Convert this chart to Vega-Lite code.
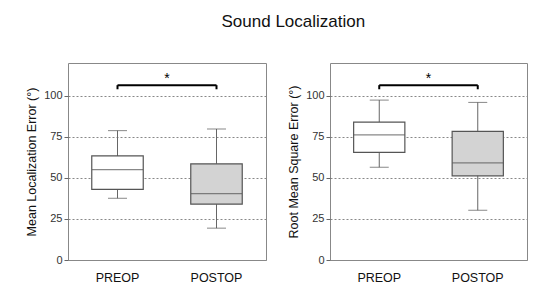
{
  "$schema": "https://vega.github.io/schema/vega-lite/v6.json",
  "padding": {"left": 25, "top": 12, "right": 6, "bottom": 5},
  "background": "white",
  "title": {"text": "Sound Localization", "fontSize": 17, "font": "Liberation Sans", "fontWeight": "normal", "anchor": "middle", "offset": 32, "dx": 17, "color": "#111"},
  "config": {
    "view": {"stroke": "#888888", "strokeWidth": 1},
    "font": "Liberation Sans",
    "axis": {"labelFont": "Liberation Sans", "titleFont": "Liberation Sans"}
  },
  "datasets": {
    "boxes": [
      {"panel": "Mean", "group": "PREOP", "min": 37.6, "q1": 43, "median": 55, "q3": 63.4, "max": 78.8},
      {"panel": "Mean", "group": "POSTOP", "min": 19.4, "q1": 34, "median": 40.4, "q3": 58.6, "max": 79.8},
      {"panel": "RMS", "group": "PREOP", "min": 56.5, "q1": 65.6, "median": 76.2, "q3": 84, "max": 97.4},
      {"panel": "RMS", "group": "POSTOP", "min": 30.3, "q1": 51.3, "median": 59.2, "q3": 78.4, "max": 96}
    ],
    "sig": [
      {"panel": "Mean", "from": "PREOP", "to": "POSTOP", "y": 106.5, "yend": 104, "ystar": 110.5, "label": "*"},
      {"panel": "RMS", "from": "PREOP", "to": "POSTOP", "y": 106.5, "yend": 104, "ystar": 110.5, "label": "*"}
    ]
  },
  "spacing": 20,
  "hconcat": [
    {
      "width": 198,
      "height": 197,
      "layer": [
        {
          "data": {"name": "boxes"},
          "transform": [{"filter": "datum.panel === 'Mean'"}],
          "encoding": {
            "x": {"field": "group", "type": "nominal", "scale": {"domain": ["PREOP", "POSTOP"], "paddingInner": 0, "paddingOuter": 0},
                  "axis": {"title": null, "labelAngle": 0, "ticks": false, "domain": false, "labelFontSize": 12.5, "labelColor": "#111", "labelPadding": 11}}
          },
          "layer": [
            {"mark": {"type": "rule", "color": "#666", "strokeWidth": 1},
             "encoding": {
               "y": {"field": "min", "type": "quantitative", "scale": {"domain": [0, 120], "nice": false},
                     "axis": {"title": "Mean Localization Error  (°)", "titleFontSize": 12.5, "titleFontWeight": "normal", "titleColor": "#111", "titlePadding": 5,
                              "values": [0, 25, 50, 75, 100], "labelFontSize": 11, "labelColor": "#333", "tickColor": "#666", "tickSize": 4, "domain": false,
                              "grid": true, "gridDash": [2, 2], "gridColor": "#888", "gridWidth": 1}},
               "y2": {"field": "max"}
             }},
            {"mark": {"type": "bar", "stroke": "#555", "strokeWidth": 1.2, "width": {"band": 0.52}},
             "encoding": {
               "y": {"field": "q1", "type": "quantitative"},
               "y2": {"field": "q3"},
               "fill": {"field": "group", "type": "nominal", "scale": {"domain": ["PREOP", "POSTOP"], "range": ["#ffffff", "#d3d3d3"]}, "legend": null}
             }},
            {"mark": {"type": "tick", "size": 51, "thickness": 1.3, "color": "#555"},
             "encoding": {"y": {"field": "median", "type": "quantitative"}}},
            {"mark": {"type": "tick", "size": 19, "thickness": 1, "color": "#555"},
             "encoding": {"y": {"field": "min", "type": "quantitative"}}},
            {"mark": {"type": "tick", "size": 19, "thickness": 1, "color": "#555"},
             "encoding": {"y": {"field": "max", "type": "quantitative"}}}
          ]
        },
        {
          "data": {"name": "sig"},
          "transform": [{"filter": "datum.panel === 'Mean'"}],
          "layer": [
            {"mark": {"type": "rule", "color": "#000", "strokeWidth": 2},
             "encoding": {
               "x": {"field": "from", "type": "nominal"},
               "x2": {"field": "to"},
               "y": {"field": "y", "type": "quantitative"}
             }},
            {"mark": {"type": "rule", "color": "#000", "strokeWidth": 2},
             "encoding": {
               "x": {"field": "from", "type": "nominal"},
               "y": {"field": "yend", "type": "quantitative"},
               "y2": {"field": "y"}
             }},
            {"mark": {"type": "rule", "color": "#000", "strokeWidth": 2},
             "encoding": {
               "x": {"field": "to", "type": "nominal"},
               "y": {"field": "yend", "type": "quantitative"},
               "y2": {"field": "y"}
             }},
            {"mark": {"type": "text", "fontSize": 14, "color": "#000", "baseline": "middle", "align": "center"},
             "encoding": {
               "x": {"field": "from", "type": "nominal", "bandPosition": 1},
               "y": {"field": "ystar", "type": "quantitative"},
               "text": {"field": "label"}
             }}
          ]
        }
      ]
    },
    {
      "width": 197,
      "height": 197,
      "layer": [
        {
          "data": {"name": "boxes"},
          "transform": [{"filter": "datum.panel === 'RMS'"}],
          "encoding": {
            "x": {"field": "group", "type": "nominal", "scale": {"domain": ["PREOP", "POSTOP"], "paddingInner": 0, "paddingOuter": 0},
                  "axis": {"title": null, "labelAngle": 0, "ticks": false, "domain": false, "labelFontSize": 12.5, "labelColor": "#111", "labelPadding": 11}}
          },
          "layer": [
            {"mark": {"type": "rule", "color": "#666", "strokeWidth": 1},
             "encoding": {
               "y": {"field": "min", "type": "quantitative", "scale": {"domain": [0, 120], "nice": false},
                     "axis": {"title": "Root Mean Square Error  (°)", "titleFontSize": 12.5, "titleFontWeight": "normal", "titleColor": "#111", "titlePadding": 5,
                              "values": [0, 25, 50, 75, 100], "labelFontSize": 11, "labelColor": "#333", "tickColor": "#666", "tickSize": 4, "domain": false,
                              "grid": true, "gridDash": [2, 2], "gridColor": "#888", "gridWidth": 1}},
               "y2": {"field": "max"}
             }},
            {"mark": {"type": "bar", "stroke": "#555", "strokeWidth": 1.2, "width": {"band": 0.52}},
             "encoding": {
               "y": {"field": "q1", "type": "quantitative"},
               "y2": {"field": "q3"},
               "fill": {"field": "group", "type": "nominal", "scale": {"domain": ["PREOP", "POSTOP"], "range": ["#ffffff", "#d3d3d3"]}, "legend": null}
             }},
            {"mark": {"type": "tick", "size": 51, "thickness": 1.3, "color": "#555"},
             "encoding": {"y": {"field": "median", "type": "quantitative"}}},
            {"mark": {"type": "tick", "size": 19, "thickness": 1, "color": "#555"},
             "encoding": {"y": {"field": "min", "type": "quantitative"}}},
            {"mark": {"type": "tick", "size": 19, "thickness": 1, "color": "#555"},
             "encoding": {"y": {"field": "max", "type": "quantitative"}}}
          ]
        },
        {
          "data": {"name": "sig"},
          "transform": [{"filter": "datum.panel === 'RMS'"}],
          "layer": [
            {"mark": {"type": "rule", "color": "#000", "strokeWidth": 2},
             "encoding": {
               "x": {"field": "from", "type": "nominal"},
               "x2": {"field": "to"},
               "y": {"field": "y", "type": "quantitative"}
             }},
            {"mark": {"type": "rule", "color": "#000", "strokeWidth": 2},
             "encoding": {
               "x": {"field": "from", "type": "nominal"},
               "y": {"field": "yend", "type": "quantitative"},
               "y2": {"field": "y"}
             }},
            {"mark": {"type": "rule", "color": "#000", "strokeWidth": 2},
             "encoding": {
               "x": {"field": "to", "type": "nominal"},
               "y": {"field": "yend", "type": "quantitative"},
               "y2": {"field": "y"}
             }},
            {"mark": {"type": "text", "fontSize": 14, "color": "#000", "baseline": "middle", "align": "center"},
             "encoding": {
               "x": {"field": "from", "type": "nominal", "bandPosition": 1},
               "y": {"field": "ystar", "type": "quantitative"},
               "text": {"field": "label"}
             }}
          ]
        }
      ]
    }
  ]
}
